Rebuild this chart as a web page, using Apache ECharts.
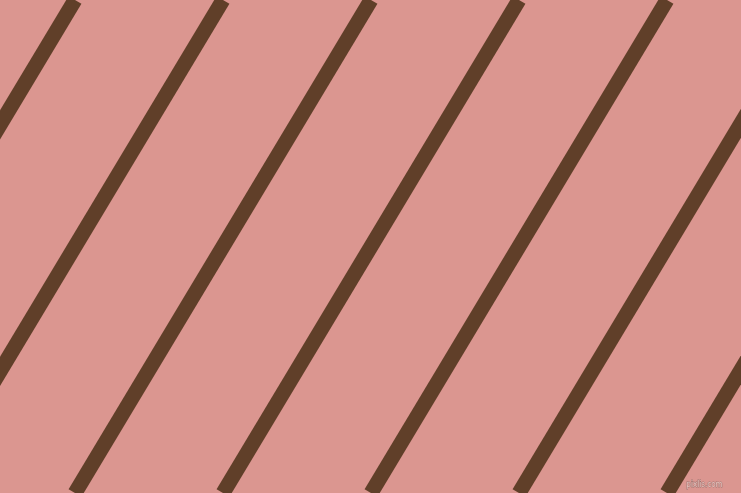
<!DOCTYPE html>
<html>
<head>
<meta charset="utf-8">
<script src="https://cdn.jsdelivr.net/npm/echarts@6/dist/echarts.min.js"></script>
<style>
html,body{margin:0;padding:0;background:#db9690;}
#chart{width:741px;height:493px;}
</style>
</head>
<body>
<div id="chart"></div>
<script>
// stripe positions where each stripe crosses the top edge (y=0) and bottom edge (y=493)
var stripeTopX = [75, 223, 371, 519, 667, 815, 963];
var stripeBottomX = [-221, -73, 75, 223, 371, 519, 667];
var edgeY = [0, 493];

var chart = echarts.init(document.getElementById('chart'));
var series = stripeTopX.map(function (tx, i) {
  return {
    type: 'line',
    data: [[tx, edgeY[0]], [stripeBottomX[i], edgeY[1]]],
    symbol: 'none',
    silent: true,
    animation: false,
    clip: true,
    lineStyle: { color: '#603f29', width: 15, cap: 'butt' }
  };
});
chart.setOption({
  backgroundColor: '#db9690',
  animation: false,
  grid: { left: 0, right: 0, top: 0, bottom: 0 },
  xAxis: { type: 'value', min: 0, max: 741, show: false },
  yAxis: { type: 'value', min: 0, max: 493, inverse: true, show: false },
  series: series,
  graphic: [{
    type: 'text',
    z: 100,
    right: 18,
    bottom: 4,
    style: {
      text: 'pixlis.com',
      fill: '#ecc4bf',
      stroke: '#9a7470',
      lineWidth: 0.8,
      font: '8px "DejaVu Sans Condensed", "DejaVu Sans"'
    }
  }]
});
</script>
</body>
</html>
